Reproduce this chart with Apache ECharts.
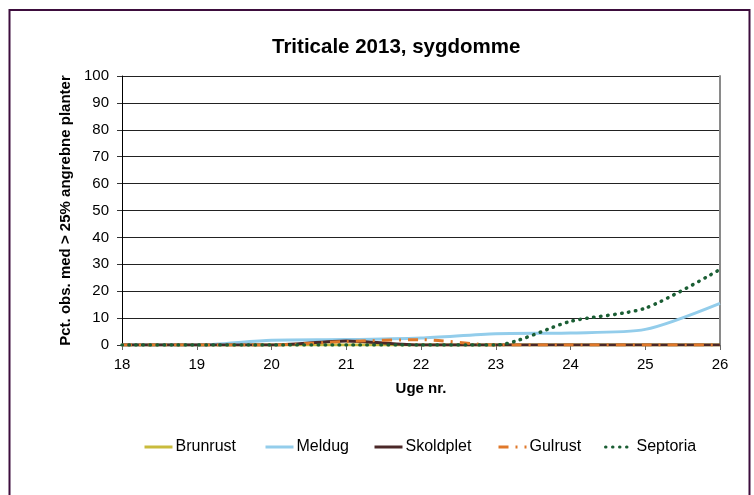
<!DOCTYPE html>
<html>
<head>
<meta charset="utf-8">
<script src="https://cdn.jsdelivr.net/npm/echarts@6/dist/echarts.min.js"></script>
<style>
html,body{margin:0;padding:0;background:#fff;}
#chart{width:754px;height:495px;}
</style>
</head>
<body>
<div id="chart"></div>
<script>
// Data
var weeks = ['18', '19', '20', '21', '22', '23', '24', '25', '26'];
var brunrust = [0, 0, 0, 0, 0, 0, 0, 0, 0];
var meldug = [0, 0, 1.8, 2.0, 2.6, 4.2, 4.5, 5.8, 15.5];
var skoldplet = [0, 0, 0, 1.5, 0, 0, 0, 0, 0];
var gulrust = [0, 0, 0, 1.3, 2.0, 0, 0, 0, 0];
var septoria = [0, 0, 0, 0, 0, 0, 8.8, 13.7, 28.1];
var seriesNames = ['Brunrust', 'Meldug', 'Skoldplet', 'Gulrust', 'Septoria'];
var yTicks = { min: 0, max: 100, interval: 10 };

var FONT = '"Liberation Sans", Arial, sans-serif';
var colors = ['#C9BB3C', '#93CDEB', '#4B2828', '#E0782A', '#1B5E34'];
var legendLeft = [143, 264, 373, 497, 604];

function mkSeries(name, data, color, lineStyleExtra) {
  var ls = { color: color, width: 3 };
  for (var k in lineStyleExtra) ls[k] = lineStyleExtra[k];
  return {
    name: name,
    type: 'line',
    data: data,
    symbol: 'none',
    smooth: 0.25,
    itemStyle: { color: color },
    lineStyle: ls,
    emphasis: { disabled: true },
    animation: false
  };
}

var legends = seriesNames.map(function (n, i) {
  return {
    data: [n],
    left: legendLeft[i],
    top: 439,
    padding: 0,
    itemWidth: 28,
    itemHeight: 14,
    itemGap: 0,
    itemStyle: { opacity: 0 },
    lineStyle: { width: 3 },
    textStyle: { fontFamily: FONT, fontSize: 16, color: '#000', padding: [0, 0, 0, -2] },
    selectedMode: false
  };
});

var chart = echarts.init(document.getElementById('chart'), null, { renderer: 'canvas' });
chart.setOption({
  backgroundColor: '#fff',
  animation: false,
  title: {
    text: 'Triticale 2013, sygdomme',
    left: 267,
    top: 32,
    textStyle: { fontFamily: FONT, fontSize: 20.5, fontWeight: 'bold', color: '#000' }
  },
  graphic: [{
    type: 'rect',
    shape: { x: 9.5, y: 10, width: 740, height: 500 },
    style: { fill: 'none', stroke: '#3d0d3d', lineWidth: 2 },
    silent: true,
    z: 100
  }],
  legend: legends,
  grid: { left: 122, right: 34, top: 76, bottom: 150 },
  xAxis: {
    type: 'category',
    data: weeks,
    boundaryGap: false,
    name: 'Uge nr.',
    nameLocation: 'middle',
    nameGap: 36,
    nameTextStyle: { fontFamily: FONT, fontSize: 15, fontWeight: 'bold', color: '#000' },
    axisLine: { show: true, lineStyle: { color: '#444', width: 1 } },
    axisTick: { show: true, length: 5, alignWithLabel: true, lineStyle: { color: '#666' } },
    axisLabel: { fontFamily: FONT, fontSize: 15, color: '#000', margin: 12 },
    splitLine: { show: false }
  },
  yAxis: [{
    type: 'value',
    min: yTicks.min,
    max: yTicks.max,
    interval: yTicks.interval,
    name: 'Pct. obs. med > 25% angrebne planter',
    nameLocation: 'middle',
    nameGap: 49,
    nameTextStyle: { fontFamily: FONT, fontSize: 15, fontWeight: 'bold', color: '#000' },
    axisLine: { show: true, lineStyle: { color: '#000', width: 1 } },
    axisTick: { show: true, length: 5, lineStyle: { color: '#333' } },
    axisLabel: { fontFamily: FONT, fontSize: 15, color: '#000', margin: 13 },
    splitLine: { show: true, lineStyle: { color: '#222', width: 1 } }
  }, {
    type: 'value',
    position: 'right',
    min: yTicks.min,
    max: yTicks.max,
    interval: yTicks.interval,
    axisLine: { show: true, lineStyle: { color: '#8a8a8a', width: 2 } },
    axisTick: { show: false },
    axisLabel: { show: false },
    splitLine: { show: false }
  }],
  series: [
    mkSeries('Brunrust', brunrust, colors[0], {}),
    mkSeries('Meldug', meldug, colors[1], {}),
    mkSeries('Skoldplet', skoldplet, colors[2], {}),
    mkSeries('Gulrust', gulrust, colors[3], { type: [10, 7, 2, 7] }),
    mkSeries('Septoria', septoria, colors[4], { type: [0.5, 6.5], cap: 'round', width: 3.5 })
  ]
});
</script>
</body>
</html>
